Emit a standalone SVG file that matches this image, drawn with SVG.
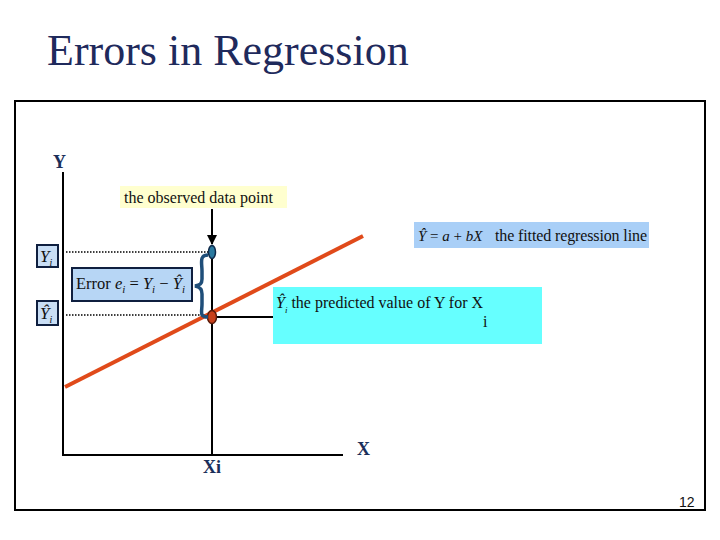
<svg xmlns="http://www.w3.org/2000/svg" width="720" height="540" viewBox="0 0 720 540">
<defs>
<style>
.serif{font-family:"Liberation Serif","Times New Roman",serif;}
.lbl{font-family:"Liberation Serif","Times New Roman",serif;font-size:16px;fill:#111;}
.axl{font-family:"Liberation Serif","Times New Roman",serif;font-size:18px;font-weight:bold;fill:#1b2f5a;}
.dot{stroke:#000;stroke-width:1.5;stroke-dasharray:1.5 1.5;fill:none;}
.box{stroke:#0f1f3f;stroke-width:2;}
</style>
<marker id="ah" viewBox="0 0 10 10" refX="9" refY="5" markerWidth="5" markerHeight="5" orient="auto">
<path d="M0,0 L10,5 L0,10 z" fill="#000"/>
</marker>
</defs>
<rect width="720" height="540" fill="#fff"/>
<text x="47" y="65" class="serif" font-size="44" fill="#1f2a5c">Errors in Regression</text>
<rect x="15" y="101" width="690" height="409" fill="none" stroke="#000" stroke-width="2"/>
<text x="679" y="507" font-family="Liberation Sans,Arial,sans-serif" font-size="14" fill="#111">12</text>

<g id="connectors">
<line x1="63" y1="172" x2="63" y2="456" stroke="#000" stroke-width="2"/>
<line x1="62" y1="455" x2="343" y2="455" stroke="#000" stroke-width="2"/>
<line x1="212" y1="248" x2="212" y2="455" stroke="#000" stroke-width="2"/>
<line x1="212" y1="209" x2="212" y2="244" stroke="#000" stroke-width="2" marker-end="url(#ah)"/>
<line x1="66" y1="252" x2="208" y2="252" class="dot"/>
<line x1="66" y1="315" x2="208" y2="315" class="dot"/>
<line x1="212" y1="317" x2="273" y2="317" stroke="#000" stroke-width="2"/>
<line x1="65" y1="387" x2="363" y2="236" stroke="#e04a1a" stroke-width="4"/>
</g>

<g id="axis-labels">
<text x="53" y="168" class="axl">Y</text>
<text x="203" y="473" class="axl">Xi</text>
<text x="357" y="455" class="axl">X</text>
</g>

<g id="observed-point">
<ellipse cx="212" cy="252" rx="3.5" ry="6.5" fill="#2a7aa0" stroke="#0f2a4a" stroke-width="1.5"/>
</g>
<g id="predicted-point">
<ellipse cx="212" cy="317" rx="4.5" ry="6.5" fill="#c8401a" stroke="#5a1a0a" stroke-width="1.5"/>
</g>

<g id="observed-label">
<rect x="120" y="186" width="167" height="22" fill="#ffffcf"/>
<text x="124" y="203" class="lbl" font-size="17">the observed data point</text>
</g>

<g id="yi-box">
<rect x="37" y="245" width="21" height="22" fill="#c9def5" class="box"/>
<text x="40" y="262" class="serif" font-size="17" font-style="italic" fill="#111">Y<tspan font-size="10" dy="4">i</tspan></text>
</g>
<g id="yhat-box">
<rect x="37" y="301" width="21" height="24" fill="#c9def5" class="box"/>
<text x="40" y="319" class="serif" font-size="17" font-style="italic" fill="#111">Ŷ<tspan font-size="10" dy="4">i</tspan></text>
</g>

<g id="error-box">
<rect x="72" y="268" width="120" height="33" fill="#b7d6f5" class="box"/>
<text x="76" y="289" class="serif" font-size="16.5" fill="#111">Error <tspan font-style="italic">e</tspan><tspan font-size="11" dy="4" font-style="italic">i</tspan><tspan dy="-4"> = </tspan><tspan font-style="italic">Y</tspan><tspan font-size="11" dy="4" font-style="italic">i</tspan><tspan dy="-4"> − </tspan><tspan font-style="italic">Ŷ</tspan><tspan font-size="11" dy="4" font-style="italic">i</tspan></text>
</g>

<g id="brace">
<path d="M208,255 C199,255 202,263 202,271 L202,279 C202,284 200,285 195,286 C200,287 202,289 202,294 L202,304 C202,312 199,317 208,317" fill="none" stroke="#1f4e79" stroke-width="3.5"/>
</g>

<g id="fitted-label">
<rect x="414" y="222" width="235" height="26" fill="#a9cff7"/>
<text x="418" y="241" class="serif" font-size="15" fill="#111"><tspan font-style="italic">Ŷ</tspan> = <tspan font-style="italic">a</tspan> + <tspan font-style="italic">bX</tspan></text>
<text x="495" y="241" class="lbl" font-size="15" textLength="152" lengthAdjust="spacing">the fitted regression line</text>
</g>

<g id="predicted-label">
<rect x="273" y="287" width="269" height="57" fill="#66ffff"/>
<text x="276" y="308" class="serif" font-size="16" fill="#111"><tspan font-style="italic">Ŷ</tspan><tspan font-size="9" dy="5" font-style="italic">i</tspan><tspan dy="-5"> the predicted value of Y for X</tspan></text>
<text x="483" y="327" class="lbl">i</text>
</g>
</svg>
